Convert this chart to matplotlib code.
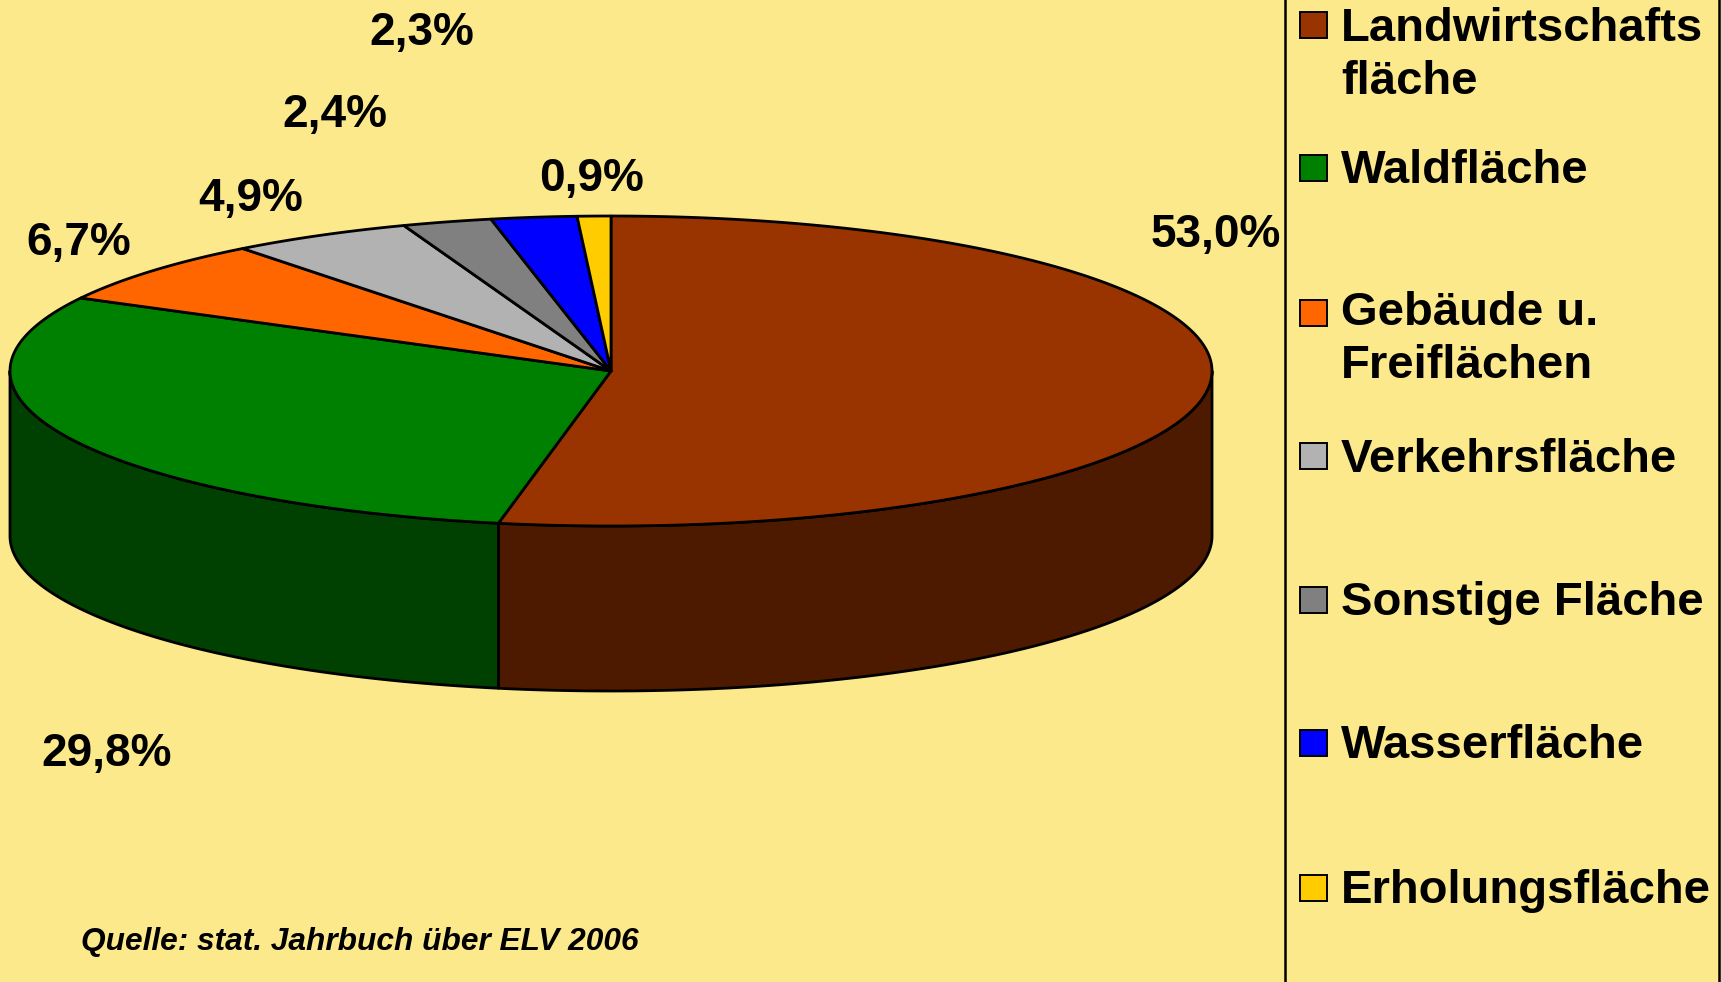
import numpy as np
import matplotlib
matplotlib.use("Agg")
import matplotlib.pyplot as plt
from matplotlib.patches import Polygon, Rectangle

# ---------------- data ----------------
categories = ["Landwirtschafts\nfläche", "Waldfläche", "Gebäude u.\nFreiflächen",
              "Verkehrsfläche", "Sonstige Fläche", "Wasserfläche", "Erholungsfläche"]
values = [53.0, 29.8, 6.7, 4.9, 2.4, 2.3, 0.9]
value_labels = ["53,0%", "29,8%", "6,7%", "4,9%", "2,4%", "2,3%", "0,9%"]
source_text = "Quelle: stat. Jahrbuch über ELV 2006"

# ---------------- style / layout ----------------
top_colors = ["#993300", "#008000", "#FF6600", "#B2B2B2", "#808080", "#0000FF", "#FFCC00"]
side_colors = ["#4D1A00", "#004000", "#803300", "#595959", "#404040", "#000080", "#806600"]
BG = "#FCE98C"
FONT = "Liberation Sans"

W, H = 1721, 982
cx, cy, ra, rb, depth = 611, 371, 601, 155, 165

# label anchor points (center x, baseline y) in pixel space
label_pos = [(1216, 247), (107, 766), (79, 255), (251, 211), (335, 127), (422, 45), (592, 191)]
# legend rows: square top y, text baseline y
legend_sq_top = [12, 155, 300, 443, 587, 730, 875]
legend_base = [41, 183, 325, 472, 615, 758, 903]
legend_line_gap = 53

fig = plt.figure(figsize=(W / 100, H / 100), dpi=100, facecolor=BG)
ax = fig.add_axes([0, 0, 1, 1])
ax.set_xlim(0, W)
ax.set_ylim(H, 0)
ax.axis("off")
ax.set_facecolor(BG)

vals = np.array(values)
cum = np.concatenate([[0], np.cumsum(vals)]) / vals.sum() * 360.0
starts = 90 - cum[:-1]
ends = 90 - cum[1:]


def pt(theta_deg, dz=0.0):
    t = np.radians(theta_deg)
    return cx + ra * np.cos(t), cy - rb * np.sin(t) + dz


# side walls (front half, angles in (-180, 0) mod 360)
for i in range(len(values)):
    s, e = starts[i], ends[i]
    for k in range(-2, 2):
        lo, hi = -180 + 360 * k, 0 + 360 * k
        a0, a1 = max(e, lo), min(s, hi)
        if a1 > a0:
            th = np.linspace(a1, a0, 200)
            xt, yt = pt(th)
            xb, yb = pt(th[::-1], depth)
            poly = np.column_stack([np.concatenate([xt, xb]), np.concatenate([yt, yb])])
            ax.add_patch(Polygon(poly, closed=True, facecolor=side_colors[i],
                                 edgecolor="black", lw=2.0, joinstyle="round", zorder=2))

# top faces
for i in range(len(values)):
    th = np.linspace(starts[i], ends[i], max(int(abs(starts[i] - ends[i]) * 3), 4))
    xt, yt = pt(th)
    poly = np.column_stack([np.concatenate([[cx], xt]), np.concatenate([[cy], yt])])
    ax.add_patch(Polygon(poly, closed=True, facecolor=top_colors[i],
                         edgecolor="black", lw=2.0, joinstyle="round", zorder=3))

# value labels
for (x, y), lab in zip(label_pos, value_labels):
    ax.text(x, y, lab, ha="center", va="baseline", fontsize=33, fontweight="bold",
            family=FONT, color="black", zorder=5)

# legend separator and border
ax.plot([1285, 1285], [0, H], color="black", lw=1.8, zorder=4)
ax.plot([1719, 1719], [0, H], color="black", lw=1.8, zorder=4)

for i, cat in enumerate(categories):
    ax.add_patch(Rectangle((1300, legend_sq_top[i]), 27, 26, facecolor=top_colors[i],
                           edgecolor="black", lw=1.4, zorder=5))
    for j, line in enumerate(cat.split("\n")):
        ax.text(1341, legend_base[i] + j * legend_line_gap, line, ha="left", va="baseline",
                fontsize=34, fontweight="bold", family=FONT, color="black", zorder=5)

ax.text(81, 950, source_text, ha="left", va="baseline", fontsize=22.8, fontweight="bold",
        style="italic", family=FONT, color="black", zorder=5)

fig.savefig("out.png", dpi=100, facecolor=BG)
